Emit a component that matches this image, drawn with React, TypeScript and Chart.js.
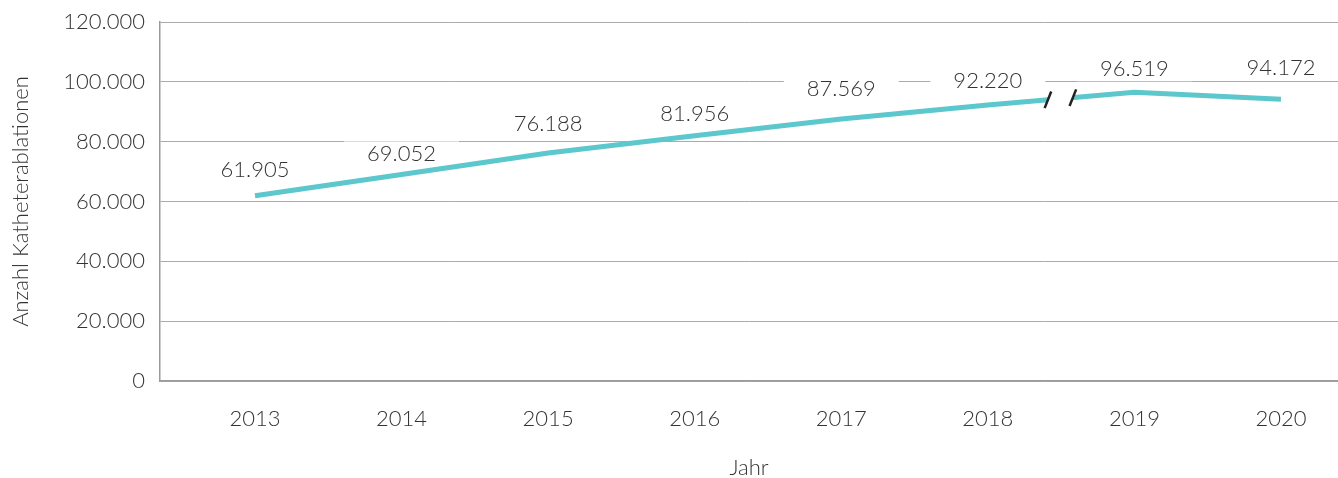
import React, { useEffect, useRef } from "react";
import { Chart, registerables } from "chart.js";

Chart.register(...registerables);

const YEARS = ["2013", "2014", "2015", "2016", "2017", "2018", "2019", "2020"];
const ABLATIONS = [61905, 69052, 76188, 81956, 87569, 92220, 96519, 94172];
const Y_MIN = 0;
const Y_MAX = 120000;
const Y_STEP = 20000;
const Y_TITLE = "Anzahl Katheterablationen";
const X_TITLE = "Jahr";
const BREAK_AFTER_INDEX = 5; // axis break between 2018 and 2019

const FONT = "Lato";
const TEXT = "#333333";
const LINE = "#5cc7cc";
const FONT_SIZE = 22;

const fmt = (v: number) =>
  String(Math.round(v)).replace(/\B(?=(\d{3})+(?!\d))/g, ".");

// vertical distance (px) of each value label above its point
const LABEL_DY = [26, 21, 29, 22, 30, 24, 23, 31];

const labelPlugin = {
  id: "valueLabels",
  beforeDatasetsDraw(chart: any) {
    const { ctx } = chart;
    const meta = chart.getDatasetMeta(0);
    ctx.save();
    ctx.font = `300 ${FONT_SIZE}px ${FONT}`;
    meta.data.forEach((pt: any, i: number) => {
      const txt = fmt(ABLATIONS[i]);
      const w = ctx.measureText(txt).width + 46;
      const h = 24;
      const cy = pt.y - LABEL_DY[i];
      ctx.fillStyle = "#ffffff";
      ctx.fillRect(pt.x - w / 2, cy - h / 2, w, h);
    });
    ctx.restore();
  },
  afterDatasetsDraw(chart: any) {
    const { ctx } = chart;
    const meta = chart.getDatasetMeta(0);
    const xs = chart.scales.x;
    // axis break between two points
    const p0 = meta.data[BREAK_AFTER_INDEX];
    const p1 = meta.data[BREAK_AFTER_INDEX + 1];
    const yAt = (x: number) => p0.y + ((x - p0.x) / (p1.x - p0.x)) * (p1.y - p0.y);
    const xa = xs.getPixelForValue(BREAK_AFTER_INDEX + 0.41);
    const xb = xs.getPixelForValue(BREAK_AFTER_INDEX + 0.58);
    const ya = yAt(xa);
    const yb = yAt(xb);
    const dx = 3.3;
    const dy = 8.3;
    ctx.save();
    ctx.fillStyle = "#ffffff";
    ctx.beginPath();
    ctx.moveTo(xa + dx, ya - dy);
    ctx.lineTo(xb + dx, yb - dy);
    ctx.lineTo(xb - dx, yb + dy);
    ctx.lineTo(xa - dx, ya + dy);
    ctx.closePath();
    ctx.fill();
    ctx.strokeStyle = "#222222";
    ctx.lineWidth = 2.5;
    [
      [xa, ya],
      [xb, yb],
    ].forEach(([x, y]) => {
      ctx.beginPath();
      ctx.moveTo(x - dx, y + dy);
      ctx.lineTo(x + dx, y - dy);
      ctx.stroke();
    });
    // value labels
    ctx.font = `300 ${FONT_SIZE}px ${FONT}`;
    ctx.fillStyle = TEXT;
    ctx.textAlign = "center";
    ctx.textBaseline = "middle";
    meta.data.forEach((pt: any, i: number) => {
      ctx.fillText(fmt(ABLATIONS[i]), pt.x, pt.y - LABEL_DY[i]);
    });
    ctx.restore();
  },
};

export default function App() {
  const ref = useRef<HTMLCanvasElement | null>(null);

  useEffect(() => {
    document.body.style.margin = "0";
    const canvas = ref.current;
    if (!canvas) return;
    const tickFont = { family: FONT, size: FONT_SIZE, weight: "300" as any };
    const chart = new Chart(canvas, {
      type: "line",
      data: {
        datasets: [
          {
            data: ABLATIONS.map((v, i) => ({ x: i, y: v })),
            borderColor: LINE,
            borderWidth: 5,
            pointRadius: 0,
            tension: 0,
            fill: false,
          },
        ],
      },
      options: {
        responsive: false,
        animation: false,
        layout: { padding: { top: 22, right: 0, left: 0, bottom: 0 } },
        plugins: {
          legend: { display: false },
          tooltip: { enabled: false },
        },
        scales: {
          x: {
            type: "linear",
            min: -0.648,
            max: 7.389,
            grid: { display: false, drawTicks: false },
            border: { display: true, color: "#9a9a9a", width: 1.5 },
            afterBuildTicks: (s: any) => {
              s.ticks = YEARS.map((_, i) => ({ value: i }));
            },
            afterFit: (s: any) => {
              s.height = 97;
            },
            ticks: {
              autoSkip: false,
              maxRotation: 0,
              padding: 25,
              color: TEXT,
              font: tickFont,
              callback: (v: any) => YEARS[v] ?? "",
            },
            title: {
              display: true,
              text: X_TITLE,
              color: TEXT,
              font: tickFont,
              padding: { top: 0, bottom: -3 },
            },
          },
          y: {
            min: Y_MIN,
            max: Y_MAX,
            grid: { color: "#ababab", lineWidth: 1, drawTicks: false },
            border: { display: true, color: "#9a9a9a", width: 1.5 },
            afterFit: (s: any) => {
              s.width = 160;
              s.paddingTop = 0;
              s.paddingBottom = 0;
            },
            ticks: {
              stepSize: Y_STEP,
              padding: 15,
              color: TEXT,
              font: tickFont,
              callback: (v: any) => fmt(Number(v)),
            },
            title: {
              display: true,
              text: Y_TITLE,
              color: TEXT,
              font: tickFont,
              padding: { top: 8, bottom: 0 },
            },
          },
        },
      },
      plugins: [labelPlugin],
    });
    return () => chart.destroy();
  }, []);

  return (
    <div style={{ width: 1338, height: 478 }}>
      <canvas ref={ref} width={1338} height={478} />
    </div>
  );
}
